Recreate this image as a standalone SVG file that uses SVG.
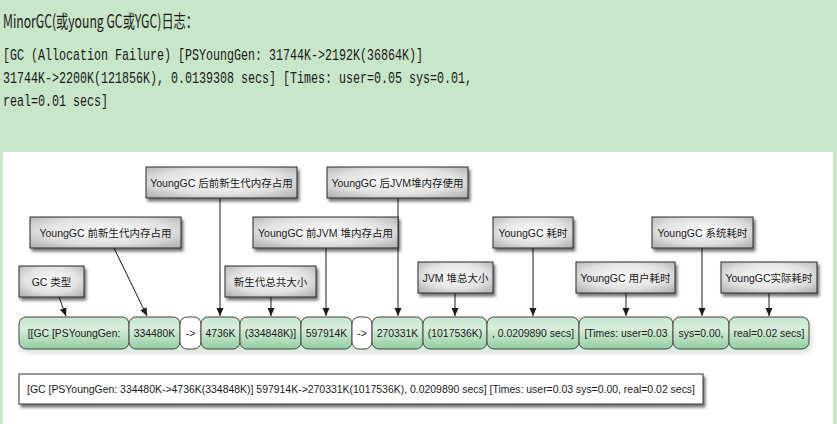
<svg xmlns="http://www.w3.org/2000/svg" width="837" height="424" viewBox="0 0 837 424">
<defs>
<style>
.hd{font-family:"Noto Sans CJK SC","Liberation Sans",sans-serif;font-size:18px;fill:#1a1a1a}
.mono{font-family:"Liberation Mono","DejaVu Sans Mono",monospace;font-size:17px;fill:#1a1a1a}
.lbl rect{fill:url(#gray);stroke:#2a2a2a;stroke-width:1;filter:url(#sh)}
.lbl text{font-family:"Liberation Sans","Noto Sans CJK SC",sans-serif;font-size:10.5px;fill:#1a1a1a;text-anchor:middle}
.seg rect{fill:url(#green);stroke:#444;stroke-width:1}
.seg rect.w{fill:#fff}
.seg text{font-family:"Liberation Sans",sans-serif;font-size:10.4px;fill:#1a1a1a;text-anchor:middle}
.conn line{stroke:#1a1a1a;stroke-width:1;marker-end:url(#ah)}
</style>
<radialGradient id="gray" cx="0.5" cy="0.45" r="0.75">
<stop offset="0" stop-color="#fbfbfb"/>
<stop offset="0.55" stop-color="#e2e2e2"/>
<stop offset="1" stop-color="#a9a9a9"/>
</radialGradient>
<linearGradient id="green" x1="0" y1="0" x2="0" y2="1">
<stop offset="0" stop-color="#c3e5cb"/>
<stop offset="0.35" stop-color="#d8efdc"/>
<stop offset="1" stop-color="#93cca2"/>
</linearGradient>
<filter id="sh" x="-10%" y="-20%" width="130%" height="160%">
<feDropShadow dx="2" dy="3" stdDeviation="1.6" flood-color="#000" flood-opacity="0.55"/>
</filter>
<marker id="ah" markerUnits="userSpaceOnUse" markerWidth="8" markerHeight="8" refX="8" refY="3.5" orient="auto">
<path d="M0,0 L8,3.5 L0,7 z" fill="#1a1a1a"/>
</marker>
</defs>
<rect x="0" y="0" width="837" height="424" fill="#c8e6c8"/>
<text class="hd" x="3" y="28" textLength="195" lengthAdjust="spacingAndGlyphs">MinorGC(或young GC或YGC)日志：</text>
<text class="mono" x="3" y="60" textLength="420" lengthAdjust="spacingAndGlyphs">[GC (Allocation Failure) [PSYoungGen: 31744K-&gt;2192K(36864K)]</text>
<text class="mono" x="3" y="83" textLength="469" lengthAdjust="spacingAndGlyphs">31744K-&gt;2200K(121856K), 0.0139308 secs] [Times: user=0.05 sys=0.01,</text>
<text class="mono" x="3" y="106" textLength="105" lengthAdjust="spacingAndGlyphs">real=0.01 secs]</text>
<rect x="3" y="152" width="830" height="272" fill="#fff"/>

<g id="connectors" class="conn">
<line x1="59" y1="297" x2="66" y2="316"/>
<line x1="114" y1="248" x2="147" y2="316"/>
<line x1="220" y1="198" x2="220" y2="316"/>
<line x1="271" y1="297" x2="271" y2="316"/>
<line x1="326" y1="248" x2="326" y2="316"/>
<line x1="398" y1="198" x2="398" y2="316"/>
<line x1="455" y1="293" x2="455" y2="316"/>
<line x1="533" y1="248" x2="533" y2="316"/>
<line x1="626" y1="293" x2="626" y2="316"/>
<line x1="702" y1="248" x2="702" y2="316"/>
<line x1="769" y1="293" x2="769" y2="316"/>
</g>

<g id="lbl-ygc-after-young" class="lbl"><rect x="146" y="167" width="151" height="31"/><text x="221.5" y="186.5">YoungGC 后前新生代内存占用</text></g>
<g id="lbl-ygc-after-jvm" class="lbl"><rect x="327" y="167" width="141" height="31"/><text x="397.5" y="186.5">YoungGC 后JVM堆内存使用</text></g>
<g id="lbl-ygc-before-young" class="lbl"><rect x="30" y="217" width="151" height="31"/><text x="105.5" y="236.5">YoungGC 前新生代内存占用</text></g>
<g id="lbl-ygc-before-jvm" class="lbl"><rect x="253" y="217" width="145" height="31"/><text x="325.5" y="236.5">YoungGC 前JVM 堆内存占用</text></g>
<g id="lbl-gc-type" class="lbl"><rect x="19" y="266" width="65" height="31"/><text x="51.5" y="285.5">GC 类型</text></g>
<g id="lbl-young-total" class="lbl"><rect x="225" y="266" width="91" height="31"/><text x="270.5" y="285.5">新生代总共大小</text></g>
<g id="lbl-ygc-time" class="lbl"><rect x="493" y="217" width="80" height="31"/><text x="533" y="236.5">YoungGC 耗时</text></g>
<g id="lbl-ygc-sys" class="lbl"><rect x="652" y="217" width="101" height="31"/><text x="702.5" y="236.5">YoungGC 系统耗时</text></g>
<g id="lbl-jvm-total" class="lbl"><rect x="418" y="262" width="75" height="31"/><text x="455.5" y="281.5">JVM 堆总大小</text></g>
<g id="lbl-ygc-user" class="lbl"><rect x="576" y="262" width="99" height="31"/><text x="625.5" y="281.5">YoungGC 用户耗时</text></g>
<g id="lbl-ygc-real" class="lbl"><rect x="721" y="262" width="96" height="31"/><text x="769" y="281.5">YoungGC实际耗时</text></g>

<g id="bar" class="seg">
<rect x="19" y="317" width="790" height="32" rx="7" fill="#000" stroke="none" opacity="0.35" transform="translate(2,3)" style="filter:blur(2px)"/>
<g id="s1"><rect x="19" y="317" width="110" height="32" rx="7"/><text x="74" y="337">[[GC [PSYoungGen:</text></g>
<g id="s2"><rect x="129" y="317" width="51" height="32" rx="7"/><text x="154.5" y="337">334480K</text></g>
<g id="s3"><rect class="w" x="180" y="317" width="21" height="32" rx="7"/><text x="190.5" y="337">-&gt;</text></g>
<g id="s4"><rect x="201" y="317" width="39" height="32" rx="7"/><text x="220.5" y="337">4736K</text></g>
<g id="s5"><rect x="240" y="317" width="61" height="32" rx="7"/><text x="270.5" y="337">(334848K)]</text></g>
<g id="s6"><rect x="301" y="317" width="51" height="32" rx="7"/><text x="326.5" y="337">597914K</text></g>
<g id="s7"><rect class="w" x="352" y="317" width="20" height="32" rx="7"/><text x="362" y="337">-&gt;</text></g>
<g id="s8"><rect x="372" y="317" width="51" height="32" rx="7"/><text x="397.5" y="337">270331K</text></g>
<g id="s9"><rect x="423" y="317" width="64" height="32" rx="7"/><text x="455" y="337">(1017536K)</text></g>
<g id="s10"><rect x="487" y="317" width="92" height="32" rx="7"/><text x="533" y="337">, 0.0209890 secs]</text></g>
<g id="s11"><rect x="579" y="317" width="94" height="32" rx="7"/><text x="626" y="337">[Times: user=0.03</text></g>
<g id="s12"><rect x="673" y="317" width="56" height="32" rx="7"/><text x="701" y="337">sys=0.00,</text></g>
<g id="s13"><rect x="729" y="317" width="80" height="32" rx="7"/><text x="769" y="337">real=0.02 secs]</text></g>
</g>

<g id="full-line">
<rect x="19" y="374" width="684" height="30" fill="#fff" stroke="#333" stroke-width="1" filter="url(#sh)"/>
<text x="27" y="393" font-family="Liberation Sans, sans-serif" font-size="10.7" fill="#1a1a1a" textLength="668" lengthAdjust="spacingAndGlyphs">[GC [PSYoungGen: 334480K-&gt;4736K(334848K)] 597914K-&gt;270331K(1017536K), 0.0209890 secs] [Times: user=0.03 sys=0.00, real=0.02 secs]</text>
</g>
</svg>
